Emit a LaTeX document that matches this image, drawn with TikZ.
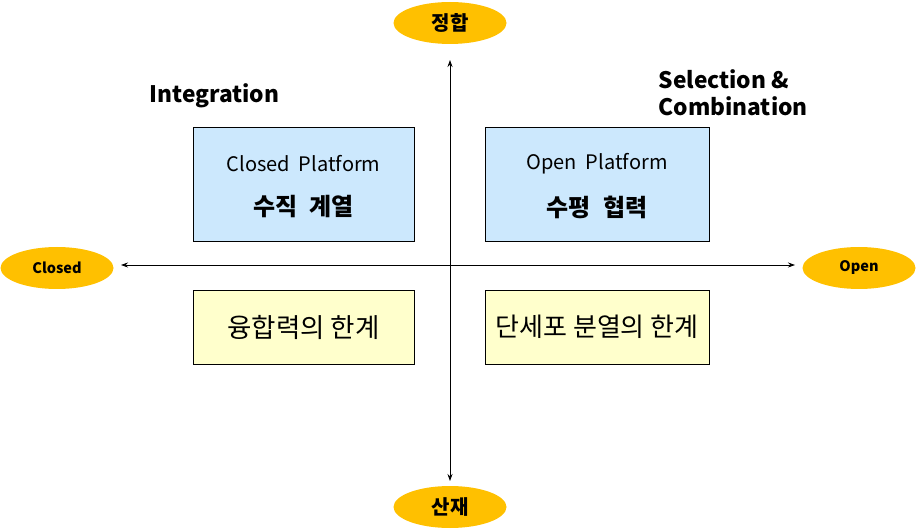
\documentclass[tikz,border=0pt]{standalone}
\usepackage{fontspec}
\setmainfont{Noto Sans CJK KR}
\usetikzlibrary{shapes.geometric,arrows.meta}
\definecolor{ellfill}{HTML}{FFC000}
\definecolor{bluebox}{HTML}{CCE8FD}
\definecolor{yelbox}{HTML}{FFFFCC}
\begin{document}
\begin{tikzpicture}[x=1pt,y=-1pt,
  pole/.style={ellipse,draw=none,fill=ellfill,minimum width=113pt,minimum height=42pt,inner sep=0pt,font=\bfseries},
  quad/.style={draw=black,line width=0.8pt,minimum width=221pt,inner sep=0pt,align=center},
  eng/.style={font=\fontsize{20}{24}\selectfont,inner sep=0pt},
  kor/.style={font=\fontsize{24}{28}\selectfont\bfseries,inner sep=0pt},
  axis/.style={line width=0.8pt,{Stealth[length=7pt,width=5pt]}-{Stealth[length=7pt,width=5pt]}},
  lab/.style={font=\fontsize{22.7}{27}\selectfont\bfseries,align=left,anchor=west}]
\useasboundingbox (0,0) rectangle (916,529);
\node[pole,font=\fontsize{20}{24}\selectfont\bfseries] (top) at (450,23) {정합};
\node[pole,font=\fontsize{20}{24}\selectfont\bfseries] (bot) at (450,507) {산재};
\node[pole,font=\fontsize{14.5}{17}\selectfont\bfseries] (left) at (57,268) {Closed};
\node[pole,font=\fontsize{14.5}{17}\selectfont\bfseries] (right) at (859,268) {Open};
\coordinate (vt) at (450,60);
\coordinate (vb) at (450,481);
\coordinate (hl) at (121,265);
\coordinate (hr) at (795,265);
\draw[axis] (vt) -- (vb);
\draw[axis] (hl) -- (hr);
\node[quad,fill=bluebox,minimum height=114pt] (cp) at (303.5,184) {};
\node[eng] (cpe) at (303.5,164) {Closed\ \ Platform};
\node[kor] (cpk) at (303.5,207) {수직\hspace{12pt}계열};
\node[quad,fill=bluebox,minimum width=224pt,minimum height=114pt] (op) at (597,184) {};
\node[eng] (ope) at (597,164) {Open\ \ Platform};
\node[kor] (opk) at (597,207) {수평\hspace{12pt}협력};
\node[quad,fill=yelbox,minimum height=74pt,font=\fontsize{26.5}{30}\selectfont] (cl) at (303.5,327) {융합력의 한계};
\node[quad,fill=yelbox,minimum width=224pt,minimum height=74pt,font=\fontsize{26}{30}\selectfont] (ol) at (597,327) {단세포 분열의 한계};
\node[lab] (int) at (146,96) {Integration};
\node[lab] (sel) at (655,93) {Selection \&\\Combination};
\end{tikzpicture}
\end{document}
